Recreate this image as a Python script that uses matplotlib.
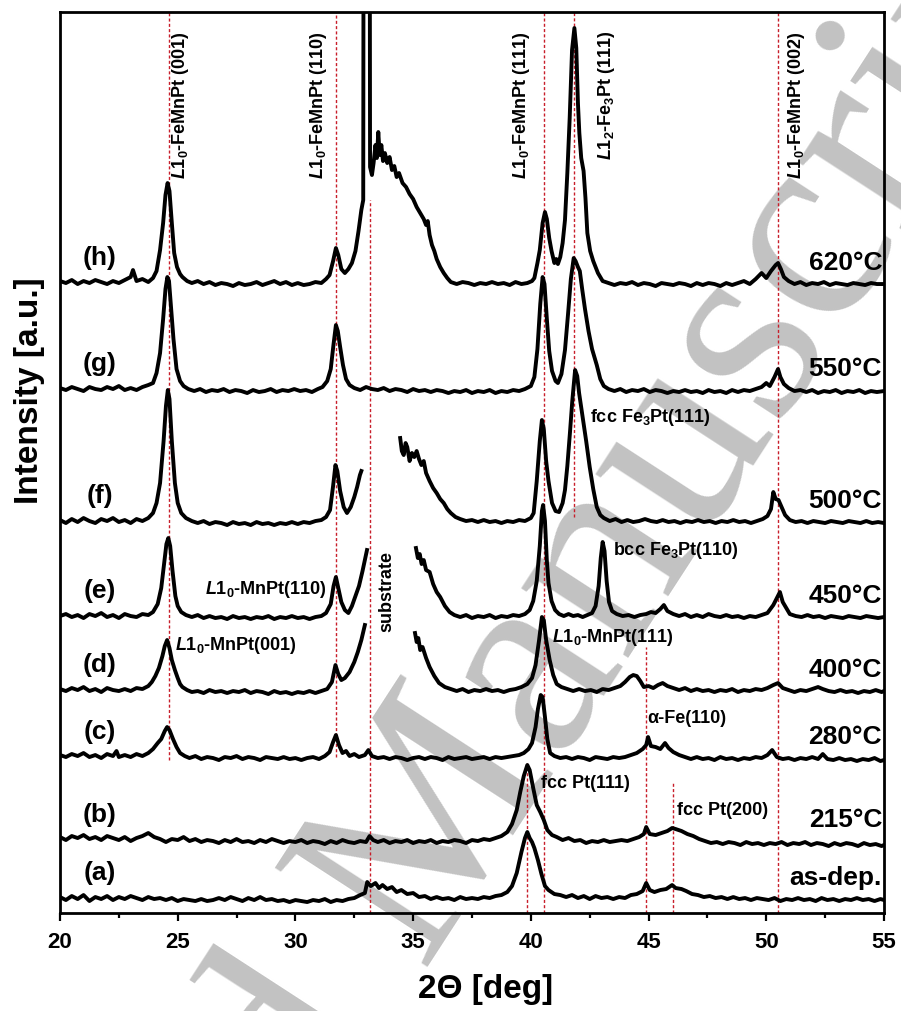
import matplotlib
matplotlib.use("Agg")
import matplotlib.pyplot as plt
from matplotlib.ticker import MultipleLocator

plt.rcParams['font.family'] = ['Liberation Sans', 'DejaVu Sans']
plt.rcParams['font.weight'] = 'bold'
plt.rcParams['mathtext.fontset'] = 'custom'
plt.rcParams['mathtext.rm'] = 'Liberation Sans:bold'
plt.rcParams['mathtext.bf'] = 'Liberation Sans:bold'
plt.rcParams['mathtext.it'] = 'Liberation Sans:italic:bold'

nan = float('nan')

# XRD patterns: (2theta, intensity above own baseline), gaps marked with nan
pattern_a = [
    (20.0, 1), (20.25, -2), (20.5, 2), (20.75, -1), (21.0, 3), (21.25, -3), (21.5, 1), (21.75, -1),
    (22.0, 2), (22.25, -2), (22.5, 1), (22.75, -1), (23.0, 2), (23.25, 0), (23.5, -2), (23.75, 1),
    (24.0, -1), (24.25, 0), (24.5, -2), (24.75, 0), (25.0, -3), (25.25, -1), (25.5, -2), (25.75, -3),
    (26.0, -1), (26.25, -3), (26.5, -2), (26.75, 0), (27.0, -2), (27.25, 1), (27.5, -1), (27.75, -3),
    (28.0, 0), (28.25, -2), (28.5, 1), (28.75, -2), (29.0, -1), (29.25, -3), (29.5, -2), (29.75, -4),
    (30.0, -2), (30.25, -3), (30.5, -4), (30.75, -2), (31.0, -3), (31.25, -1), (31.5, -4), (31.75, -2),
    (32.0, -3), (32.25, -1), (32.5, 0), (32.75, 3), (32.95, 5), (33.05, 16), (33.2, 12), (33.4, 15),
    (33.55, 10), (33.7, 13), (33.9, 9), (34.1, 11), (34.3, 6), (34.5, 8), (34.75, 4), (35.0, 5),
    (35.25, 1), (35.5, 2), (35.75, -1), (36.0, 1), (36.25, -1), (36.5, 0), (36.75, -2), (37.0, 1),
    (37.25, -1), (37.5, 0), (37.75, -1), (38.0, 1), (38.25, 0), (38.5, 2), (38.75, 3), (39.0, 6),
    (39.2, 12), (39.4, 25), (39.6, 46), (39.75, 60), (39.85, 66), (39.95, 60), (40.05, 56), (40.15, 50),
    (40.3, 38), (40.45, 24), (40.6, 12), (40.75, 8), (41.0, 4), (41.25, 3), (41.5, 1), (41.75, 3),
    (42.0, 0), (42.25, 2), (42.5, -1), (42.75, 2), (43.0, 0), (43.25, 1), (43.5, -1), (43.75, 1),
    (44.0, 0), (44.25, 3), (44.5, 4), (44.75, 7), (44.9, 15), (45.05, 8), (45.25, 6), (45.5, 8),
    (45.75, 9), (46.0, 13), (46.15, 10), (46.4, 9), (46.6, 7), (46.85, 4), (47.1, 3), (47.35, 1),
    (47.6, 2), (47.85, 0), (48.1, 1), (48.35, -1), (48.6, 1), (48.85, -1), (49.1, 0), (49.35, -2),
    (49.6, 0), (49.85, -1), (50.1, -2), (50.35, 0), (50.6, -3), (50.85, -1), (51.1, -2), (51.35, 0),
    (51.6, -2), (51.85, -1), (52.1, -3), (52.35, 0), (52.6, -2), (52.85, -1), (53.1, -3), (53.35, -1),
    (53.6, -2), (53.85, 0), (54.1, -2), (54.35, -1), (54.6, -3), (54.85, -1), (55.0, -2),
]

pattern_b = [
    (20.0, 3), (20.25, 0), (20.5, 4), (20.75, 2), (21.0, 5), (21.25, 1), (21.5, 3), (21.75, 0),
    (22.0, 4), (22.25, 2), (22.5, 0), (22.75, 3), (23.0, -1), (23.25, 2), (23.5, 4), (23.75, 7),
    (24.0, 3), (24.25, 1), (24.5, -2), (24.75, 1), (25.0, 0), (25.25, 3), (25.5, -1), (25.75, 1),
    (26.0, -2), (26.25, 0), (26.5, -1), (26.75, -3), (27.0, 0), (27.25, -2), (27.5, 1), (27.75, -2),
    (28.0, -1), (28.25, -3), (28.5, 0), (28.75, -2), (29.0, 1), (29.25, -1), (29.5, -3), (29.75, -1),
    (30.0, -2), (30.25, 0), (30.5, -3), (30.75, -1), (31.0, -2), (31.25, -4), (31.5, -1), (31.75, -3),
    (32.0, 0), (32.25, -2), (32.5, -3), (32.75, -1), (33.0, -2), (33.15, 4), (33.3, 0), (33.5, -2),
    (33.75, 0), (34.0, -3), (34.25, -1), (34.5, -2), (34.75, 0), (35.0, -3), (35.25, -1), (35.5, -2),
    (35.75, 0), (36.0, -3), (36.25, -1), (36.5, -2), (36.75, 0), (37.0, -1), (37.25, -3), (37.5, 0),
    (37.75, -1), (38.0, 1), (38.25, 0), (38.5, 2), (38.75, 4), (39.0, 8), (39.2, 16), (39.4, 30),
    (39.55, 48), (39.7, 64), (39.85, 75), (39.95, 70), (40.1, 52), (40.25, 35), (40.4, 28), (40.55, 20),
    (40.7, 10), (40.9, 5), (41.1, 3), (41.35, 0), (41.6, 2), (41.85, -1), (42.1, 0), (42.35, -3),
    (42.6, -1), (42.85, -2), (43.1, 0), (43.35, -2), (43.6, -1), (43.85, 0), (44.1, -1), (44.35, 1),
    (44.6, 3), (44.8, 6), (44.9, 13), (45.05, 6), (45.3, 5), (45.55, 7), (45.8, 9), (46.0, 12),
    (46.15, 11), (46.4, 9), (46.65, 6), (46.9, 4), (47.15, 1), (47.4, -1), (47.65, -3), (47.9, -2),
    (48.15, -4), (48.4, -2), (48.65, -3), (48.9, -5), (49.15, -2), (49.4, -4), (49.65, -3), (49.9, -5),
    (50.15, -3), (50.4, -4), (50.65, -2), (50.9, -5), (51.15, -3), (51.4, -4), (51.65, -2), (51.9, -5),
    (52.15, -3), (52.4, -4), (52.65, -6), (52.9, -3), (53.15, -5), (53.4, -3), (53.65, -4), (53.9, -6),
    (54.15, -3), (54.4, -5), (54.65, -4), (54.9, -6), (55.0, -5),
]

pattern_c = [
    (20.0, 2), (20.25, 0), (20.5, 3), (20.75, 1), (21.0, 4), (21.25, 0), (21.5, 2), (21.75, -1),
    (22.0, 3), (22.25, 1), (22.4, 6), (22.5, 0), (22.75, 2), (23.0, 0), (23.25, 3), (23.5, 1),
    (23.75, 4), (23.95, 8), (24.15, 14), (24.3, 18), (24.45, 26), (24.55, 30), (24.65, 27), (24.8, 18),
    (24.95, 10), (25.1, 4), (25.3, 1), (25.5, -1), (25.75, 1), (26.0, -2), (26.25, 0), (26.5, -1),
    (26.75, -3), (27.0, 0), (27.25, -1), (27.5, 1), (27.75, -2), (28.0, 0), (28.25, -1), (28.5, -3),
    (28.75, 0), (29.0, -1), (29.25, -2), (29.5, 0), (29.75, -2), (30.0, -1), (30.25, -3), (30.5, -1),
    (30.75, 0), (31.0, -2), (31.25, 1), (31.45, 5), (31.6, 15), (31.72, 22), (31.85, 12), (32.0, 4),
    (32.15, 6), (32.3, 1), (32.5, 3), (32.7, 0), (32.95, 2), (33.1, 7), (33.25, 1), (33.5, -1),
    (33.75, 0), (34.0, -2), (34.25, 0), (34.5, -1), (34.75, -3), (35.0, -1), (35.25, 0), (35.5, -2),
    (35.75, 0), (36.0, -1), (36.25, -3), (36.5, 0), (36.75, -2), (37.0, -1), (37.25, 0), (37.5, -2),
    (37.75, -1), (38.0, 0), (38.25, -2), (38.5, 0), (38.75, -1), (39.0, 0), (39.25, 1), (39.5, 2),
    (39.7, 4), (39.9, 8), (40.05, 14), (40.2, 30), (40.3, 48), (40.42, 62), (40.5, 60), (40.6, 40),
    (40.7, 18), (40.82, 4), (41.0, 1), (41.25, -1), (41.5, 0), (41.75, -2), (42.0, 0), (42.25, -1),
    (42.5, -3), (42.75, 0), (43.0, -1), (43.25, -2), (43.5, 0), (43.75, -1), (44.0, 0), (44.25, 2),
    (44.5, 4), (44.75, 8), (44.9, 12), (44.98, 20), (45.1, 11), (45.3, 10), (45.5, 8), (45.7, 14),
    (45.85, 9), (46.05, 5), (46.3, 2), (46.55, 0), (46.8, -2), (47.05, 0), (47.3, -2), (47.55, -1),
    (47.8, -3), (48.05, 0), (48.3, -2), (48.55, -1), (48.8, -3), (49.05, -1), (49.3, -2), (49.55, 0),
    (49.8, -1), (50.05, 2), (50.25, 7), (50.45, 0), (50.7, -2), (50.95, -1), (51.2, -3), (51.45, -1),
    (51.7, -2), (51.95, 0), (52.2, -2), (52.4, 3), (52.6, -2), (52.85, -3), (53.1, -1), (53.35, -3),
    (53.6, -2), (53.85, -4), (54.1, -2), (54.35, -3), (54.6, -1), (54.85, -4), (55.0, -3),
]

pattern_d = [
    (20.0, 1), (20.25, -1), (20.5, 2), (20.75, 0), (21.0, 3), (21.25, -1), (21.5, 1), (21.75, -2),
    (22.0, 2), (22.25, 0), (22.5, -1), (22.75, 1), (23.0, -1), (23.25, 2), (23.5, 1), (23.75, 4),
    (23.9, 8), (24.05, 14), (24.2, 22), (24.35, 34), (24.45, 44), (24.55, 50), (24.65, 42), (24.75, 30),
    (24.88, 20), (25.0, 12), (25.1, 6), (25.2, 3), (25.4, 0), (25.6, -2), (25.85, -1), (26.1, -3),
    (26.35, 0), (26.6, -2), (26.85, -1), (27.1, -3), (27.35, -1), (27.6, -2), (27.85, 0), (28.1, -3),
    (28.35, -1), (28.6, -2), (28.85, -4), (29.1, -1), (29.35, -3), (29.6, -2), (29.85, -4), (30.1, -2),
    (30.35, -3), (30.6, -1), (30.85, -3), (31.1, -1), (31.35, 1), (31.55, 8), (31.7, 25), (31.82, 16),
    (31.95, 10), (32.1, 12), (32.3, 18), (32.5, 28), (32.65, 38), (32.8, 50), (32.95, 65), (33.0, nan),
    (35.08, 57), (35.15, 48), (35.22, 52), (35.3, 40), (35.4, 43), (35.55, 32), (35.7, 23), (35.9, 14),
    (36.1, 7), (36.35, 3), (36.6, 1), (36.85, -1), (37.1, 1), (37.35, -2), (37.6, 0), (37.85, -1),
    (38.1, 1), (38.35, -1), (38.6, 0), (38.85, -2), (39.1, 0), (39.35, 1), (39.6, 3), (39.85, 6),
    (40.05, 12), (40.2, 25), (40.35, 50), (40.47, 73), (40.55, 70), (40.65, 50), (40.8, 30), (40.95, 15),
    (41.1, 6), (41.3, 3), (41.55, 1), (41.8, -1), (42.05, 1), (42.3, -1), (42.55, 0), (42.8, -2),
    (43.05, 1), (43.3, 0), (43.55, 2), (43.8, 4), (44.0, 8), (44.2, 13), (44.35, 15), (44.5, 14),
    (44.65, 9), (44.8, 3), (45.0, 4), (45.2, 2), (45.4, 5), (45.6, 7), (45.8, 4), (46.05, 2),
    (46.3, 0), (46.55, 2), (46.8, -1), (47.05, 1), (47.3, -1), (47.55, 0), (47.8, -2), (48.05, 0),
    (48.3, -1), (48.55, 1), (48.8, -2), (49.05, 0), (49.3, -1), (49.55, 1), (49.8, 0), (50.05, 2),
    (50.3, 5), (50.5, 7), (50.7, 2), (50.95, 0), (51.2, -2), (51.45, 0), (51.7, -1), (51.95, 1),
    (52.2, 3), (52.4, 1), (52.65, -1), (52.9, -2), (53.15, 0), (53.4, -2), (53.65, -1), (53.9, -3),
    (54.15, -1), (54.4, -2), (54.65, 0), (54.9, -2), (55.0, -1),
]

pattern_e = [
    (20.0, 0), (20.25, 2), (20.5, -1), (20.75, 1), (21.0, -2), (21.25, 2), (21.5, 0), (21.75, 3),
    (22.0, -1), (22.25, 1), (22.5, -2), (22.75, 2), (23.0, 0), (23.25, -1), (23.5, 2), (23.75, 1),
    (23.95, 4), (24.15, 12), (24.3, 28), (24.42, 52), (24.52, 72), (24.6, 78), (24.68, 70), (24.78, 45),
    (24.9, 20), (25.0, 10), (25.15, 4), (25.35, 1), (25.6, -1), (25.85, 1), (26.1, -2), (26.35, 0),
    (26.6, -2), (26.85, -1), (27.1, -3), (27.35, 0), (27.6, -2), (27.85, -1), (28.1, -3), (28.35, -1),
    (28.6, -2), (28.85, 0), (29.1, -3), (29.35, -1), (29.6, -2), (29.85, 0), (30.1, -2), (30.35, -1),
    (30.6, -3), (30.85, -1), (31.1, 0), (31.3, 3), (31.5, 12), (31.62, 30), (31.72, 39), (31.82, 28),
    (31.95, 14), (32.1, 6), (32.25, 3), (32.4, 10), (32.55, 20), (32.7, 30), (32.85, 45), (33.0, 62),
    (33.04, 66), (33.1, nan),
    (35.12, 68), (35.2, 58), (35.28, 62), (35.36, 52), (35.45, 56), (35.55, 46), (35.7, 44), (35.85, 32),
    (36.0, 24), (36.15, 19), (36.35, 10), (36.55, 4), (36.75, 1), (37.0, -1), (37.25, 1), (37.5, -2),
    (37.75, 0), (38.0, -1), (38.25, 1), (38.5, -2), (38.75, 0), (39.0, -1), (39.25, 1), (39.5, 0),
    (39.75, 2), (39.95, 6), (40.1, 15), (40.25, 35), (40.38, 70), (40.47, 105), (40.52, 111), (40.6, 95),
    (40.68, 55), (40.75, 33), (40.88, 15), (41.03, 6), (41.2, 2), (41.4, 0), (41.6, 2), (41.8, 0),
    (42.0, 1), (42.2, -1), (42.4, 1), (42.6, 3), (42.75, 10), (42.88, 30), (42.97, 58), (43.05, 74),
    (43.13, 65), (43.22, 35), (43.32, 14), (43.45, 5), (43.65, 2), (43.9, 0), (44.15, 1), (44.4, -1),
    (44.65, 1), (44.9, 2), (45.1, 4), (45.3, 3), (45.5, 7), (45.65, 11), (45.8, 5), (46.05, 2),
    (46.3, 0), (46.55, 2), (46.8, -1), (47.05, 1), (47.3, -1), (47.55, 2), (47.8, 0), (48.05, -1),
    (48.3, 1), (48.55, -1), (48.8, 0), (49.05, -2), (49.3, 0), (49.55, -1), (49.8, 1), (50.05, 3),
    (50.3, 11), (50.45, 18), (50.58, 24), (50.7, 14), (50.85, 8), (51.0, 2), (51.25, 0), (51.5, -1),
    (51.75, 1), (52.0, -1), (52.25, 0), (52.5, -2), (52.75, 0), (53.0, -1), (53.25, -2), (53.5, 0),
    (53.75, -1), (54.0, -2), (54.25, 0), (54.5, -1), (54.75, -2), (55.0, -1),
]

pattern_f = [
    (20.0, 1), (20.25, -2), (20.5, 2), (20.75, -1), (21.0, 3), (21.25, 0), (21.5, -2), (21.75, 2),
    (22.0, 0), (22.25, 3), (22.5, -1), (22.75, 1), (23.0, -2), (23.25, 2), (23.5, 0), (23.75, 3),
    (23.95, 8), (24.1, 18), (24.25, 38), (24.4, 80), (24.5, 115), (24.58, 131), (24.65, 122), (24.75, 80),
    (24.88, 38), (25.0, 18), (25.15, 8), (25.35, 3), (25.6, 0), (25.85, -2), (26.1, 0), (26.35, -3),
    (26.6, -1), (26.85, -2), (27.1, -4), (27.35, -1), (27.6, -3), (27.85, -2), (28.1, -4), (28.35, -1),
    (28.6, -3), (28.85, -2), (29.1, -4), (29.35, -2), (29.6, -3), (29.85, -1), (30.1, -3), (30.35, -1),
    (30.6, -2), (30.85, 0), (31.1, 1), (31.3, 4), (31.47, 11), (31.6, 35), (31.7, 56), (31.78, 50),
    (31.9, 30), (32.05, 14), (32.19, 8), (32.35, 14), (32.5, 24), (32.62, 34), (32.74, 46), (32.8, 50),
    (32.85, nan),
    (34.45, 83), (34.52, 70), (34.6, 66), (34.68, 78), (34.75, 74), (34.85, 60), (34.95, 68), (35.05, 64),
    (35.15, 70), (35.25, 62), (35.35, 56), (35.45, 60), (35.55, 48), (35.7, 40), (35.85, 33), (36.0, 28),
    (36.15, 22), (36.3, 18), (36.45, 12), (36.6, 8), (36.8, 4), (37.0, 2), (37.25, 0), (37.5, 1),
    (37.75, -1), (38.0, 1), (38.25, -1), (38.5, 0), (38.75, -2), (39.0, 0), (39.25, -1), (39.5, 1),
    (39.75, 0), (40.0, 3), (40.12, 8), (40.25, 40), (40.38, 80), (40.47, 101), (40.55, 92), (40.65, 60),
    (40.75, 40), (40.9, 18), (41.05, 10), (41.2, 9), (41.35, 18), (41.45, 31), (41.55, 55), (41.66, 88),
    (41.76, 120), (41.88, 151), (41.97, 145), (42.05, 128), (42.2, 104), (42.35, 80), (42.5, 54), (42.65, 32),
    (42.8, 14), (42.95, 6), (43.1, 3), (43.35, 0), (43.6, 2), (43.85, -1), (44.1, 1), (44.35, -1),
    (44.6, 0), (44.85, 2), (45.1, 0), (45.35, -1), (45.6, 1), (45.85, -1), (46.1, 0), (46.35, -2),
    (46.6, 0), (46.85, -1), (47.1, 1), (47.35, -1), (47.6, 0), (47.85, -2), (48.1, 0), (48.35, -1),
    (48.6, 1), (48.85, -1), (49.1, 0), (49.35, -2), (49.6, 0), (49.85, 2), (50.05, 5), (50.2, 12),
    (50.3, 29), (50.4, 22), (50.52, 21), (50.65, 14), (50.8, 6), (51.0, 1), (51.25, -1), (51.5, 0),
    (51.75, -2), (52.0, 0), (52.25, -1), (52.5, -2), (52.75, 0), (53.0, -1), (53.25, -2), (53.5, 0),
    (53.75, -1), (54.0, -2), (54.25, 0), (54.5, -2), (54.75, -1), (55.0, -2),
]

pattern_g = [
    (20.0, 1), (20.25, -1), (20.5, 2), (20.75, 0), (21.0, -2), (21.25, 2), (21.5, 0), (21.75, -1),
    (22.0, 2), (22.25, 0), (22.5, 3), (22.75, -1), (23.0, 1), (23.25, -1), (23.5, 2), (23.75, 4),
    (23.95, 6), (24.1, 16), (24.25, 36), (24.38, 70), (24.48, 100), (24.56, 112), (24.63, 108), (24.72, 80),
    (24.82, 50), (24.95, 20), (25.1, 8), (25.25, 3), (25.45, 0), (25.7, -2), (25.95, 0), (26.2, -3),
    (26.45, -1), (26.7, -2), (26.95, 0), (27.2, -3), (27.45, -1), (27.7, -2), (27.95, -4), (28.2, -1),
    (28.45, -3), (28.7, -2), (28.95, 0), (29.2, -3), (29.45, -1), (29.7, -2), (29.95, 0), (30.2, -2),
    (30.45, -1), (30.7, -3), (30.95, 0), (31.15, 2), (31.35, 8), (31.5, 20), (31.62, 45), (31.72, 64),
    (31.8, 58), (31.9, 42), (32.02, 24), (32.15, 10), (32.3, 4), (32.5, 1), (32.75, -1), (33.0, 2),
    (33.25, 0), (33.5, -1), (33.75, 1), (34.0, -2), (34.25, 0), (34.5, -1), (34.75, -3), (35.0, 0),
    (35.25, -2), (35.5, -1), (35.75, -3), (36.0, -1), (36.25, -2), (36.5, -4), (36.75, -2), (37.0, -3),
    (37.25, -1), (37.5, -4), (37.75, -2), (38.0, -3), (38.25, -1), (38.5, -4), (38.75, -2), (39.0, -3),
    (39.25, -1), (39.5, -2), (39.75, 0), (40.0, 3), (40.15, 12), (40.28, 40), (40.4, 85), (40.5, 112),
    (40.58, 105), (40.68, 70), (40.78, 38), (40.9, 18), (41.05, 8), (41.15, 6), (41.3, 15), (41.45, 39),
    (41.58, 75), (41.7, 110), (41.82, 131), (41.9, 128), (42.0, 122), (42.08, 118), (42.18, 100), (42.3, 80),
    (42.45, 58), (42.6, 40), (42.8, 24), (42.95, 10), (43.1, 3), (43.3, 0), (43.55, -2), (43.8, 0),
    (44.05, -3), (44.3, -1), (44.55, -2), (44.8, 0), (45.05, -3), (45.3, -1), (45.55, -2), (45.8, -4),
    (46.05, -2), (46.3, -3), (46.55, -1), (46.8, -3), (47.05, -2), (47.3, -4), (47.55, -1), (47.8, -3),
    (48.05, -2), (48.3, -4), (48.55, -1), (48.8, -3), (49.05, -1), (49.3, -2), (49.55, 0), (49.8, 2),
    (50.0, 6), (50.15, 3), (50.35, 12), (50.5, 20), (50.6, 12), (50.75, 5), (50.95, 1), (51.2, -2),
    (51.45, -1), (51.7, -3), (51.95, -1), (52.2, -4), (52.45, -2), (52.7, -3), (52.95, -1), (53.2, -4),
    (53.45, -2), (53.7, -3), (53.95, -1), (54.2, -4), (54.45, -2), (54.7, -3), (55.0, -2),
]

pattern_h = [
    (20.0, 2), (20.25, 0), (20.5, 3), (20.75, -1), (21.0, 2), (21.25, 0), (21.5, 3), (21.75, 1),
    (22.0, -1), (22.25, 2), (22.5, 0), (22.75, 3), (23.0, 6), (23.1, 13), (23.25, 2), (23.5, 4),
    (23.75, 1), (23.95, 5), (24.1, 12), (24.25, 33), (24.38, 60), (24.48, 88), (24.57, 100), (24.65, 92),
    (24.75, 60), (24.85, 30), (24.97, 16), (25.1, 9), (25.2, 6), (25.4, 2), (25.6, 0), (25.85, 2),
    (26.1, -1), (26.35, 1), (26.6, -2), (26.85, 0), (27.1, -1), (27.35, -3), (27.6, 0), (27.85, -2),
    (28.1, -1), (28.35, 1), (28.6, -2), (28.85, 0), (29.1, 2), (29.35, -1), (29.6, 1), (29.85, -2),
    (30.1, 0), (30.35, -2), (30.6, -1), (30.85, 1), (31.1, 0), (31.3, 4), (31.45, 8), (31.6, 22),
    (31.72, 35), (31.82, 28), (31.95, 14), (32.1, 10), (32.25, 14), (32.4, 20), (32.55, 32), (32.68, 52),
    (32.8, 73), (32.88, 83), (32.92, 900), (33.13, 900), (33.17, 116), (33.25, 108), (33.32, 120), (33.4, 138),
    (33.46, 125), (33.52, 151), (33.58, 128), (33.65, 138), (33.72, 122), (33.8, 130), (33.9, 120), (34.0, 126),
    (34.1, 113), (34.2, 117), (34.3, 106), (34.4, 110), (34.55, 100), (34.7, 96), (34.85, 89), (35.0, 84),
    (35.15, 76), (35.3, 70), (35.45, 64), (35.55, 58), (35.62, 62), (35.7, 48), (35.8, 38), (35.9, 32),
    (36.0, 24), (36.15, 16), (36.3, 10), (36.45, 5), (36.6, 1), (36.85, -1), (37.1, 1), (37.35, 0),
    (37.6, -2), (37.85, 0), (38.1, -1), (38.35, 1), (38.6, -1), (38.85, 0), (39.1, -2), (39.35, 1),
    (39.6, -1), (39.85, 0), (40.05, 2), (40.15, 5), (40.28, 20), (40.38, 33), (40.5, 60), (40.6, 71),
    (40.68, 64), (40.78, 45), (40.88, 32), (41.0, 20), (41.08, 24), (41.15, 19), (41.25, 26), (41.35, 40),
    (41.45, 63), (41.55, 110), (41.65, 165), (41.75, 233), (41.85, 255), (41.93, 235), (42.0, 180), (42.06, 150),
    (42.14, 125), (42.24, 112), (42.32, 85), (42.4, 50), (42.52, 32), (42.65, 22), (42.85, 10), (43.05, 2),
    (43.3, 0), (43.55, -2), (43.8, 0), (44.05, -1), (44.3, 1), (44.55, -2), (44.8, 0), (45.05, -1),
    (45.3, -3), (45.55, 0), (45.8, -1), (46.05, -2), (46.3, 0), (46.55, -1), (46.8, -3), (47.05, 0),
    (47.3, -2), (47.55, 0), (47.8, -1), (48.05, -3), (48.3, 0), (48.55, -2), (48.8, 0), (49.05, 2),
    (49.3, -1), (49.55, 4), (49.8, 10), (50.0, 5), (50.2, 12), (50.4, 18), (50.5, 20), (50.62, 14),
    (50.75, 6), (50.95, 2), (51.2, -1), (51.45, 1), (51.7, -2), (51.95, 0), (52.2, -1), (52.45, 1),
    (52.7, -2), (52.95, 0), (53.2, -1), (53.45, -2), (53.7, 0), (53.95, -1), (54.2, -2), (54.45, 0),
    (54.7, -1), (55.0, -1),
]

patterns = [pattern_a, pattern_b, pattern_c, pattern_d, pattern_e, pattern_f, pattern_g, pattern_h]
sample_tags = ['(a)', '(b)', '(c)', '(d)', '(e)', '(f)', '(g)', '(h)']
temperatures = ['as-dep.', '215°C', '280°C', '400°C', '450°C', '500°C', '550°C', '620°C']
offsets = [15, 73, 156, 223, 297, 392, 524, 630]

# reference peak positions (2theta) and the height range of each dashed marker
ref_pos = [24.62, 31.72, 33.15, 40.55, 41.85, 50.5, 39.82, 44.88, 46.05]
ref_low = [153, 156, 0, 0, 396, 0, 0, 0, 0]
ref_high = [901, 901, 713, 901, 901, 901, 150, 266, 130]

phase_labels = [r'$\mathit{L1_0}$-FeMnPt (001)', r'$\mathit{L1_0}$-FeMnPt (110)',
                r'$\mathit{L1_0}$-FeMnPt (111)', r'$\mathit{L1_2}$-Fe$_3$Pt (111)',
                r'$\mathit{L1_0}$-FeMnPt (002)']
phase_label_x = [25.1, 30.96, 39.6, 43.2, 51.3]

fig = plt.figure(figsize=(9.01, 10.11), dpi=100)
ax = fig.add_axes([0.0666, 0.0969, 0.9145, 0.8912])

for pat, off in zip(patterns, offsets):
    xs = [p[0] for p in pat]
    ys = [p[1] + off for p in pat]
    ax.plot(xs, ys, color='black', lw=2.8, solid_joinstyle='round', zorder=3)

ax.vlines(ref_pos, ref_low, ref_high, colors='#c81e2a', linestyles=(0, (2.2, 1.6)),
          lw=1.0, zorder=2)

# sample tags on the left, annealing temperatures on the right
for tag, temp, off in zip(sample_tags, temperatures, offsets):
    ax.text(21.7, off + 25, tag, fontsize=19, ha='center', va='center', zorder=4)
    ax.text(54.92, off + 20, temp, fontsize=19, ha='right', va='center', zorder=4)

for lab, xp in zip(phase_labels, phase_label_x):
    ax.text(xp, 882, lab, rotation=90, fontsize=13, ha='center', va='top', zorder=4)

ax.text(31.34, 324, r'$\mathit{L1_0}$-MnPt(110)', fontsize=13, ha='right', va='center')
ax.text(24.89, 268, r'$\mathit{L1_0}$-MnPt(001)', fontsize=13, ha='left', va='center')
ax.text(33.89, 322, 'substrate', fontsize=13, rotation=90, ha='center', va='center')
ax.text(40.89, 276, r'$\mathit{L1_0}$-MnPt(111)', fontsize=13, ha='left', va='center')
ax.text(42.51, 496, 'fcc Fe$_3$Pt(111)', fontsize=13, ha='left', va='center')
ax.text(43.49, 363, 'bcc Fe$_3$Pt(110)', fontsize=13, ha='left', va='center')
ax.text(44.94, 195, 'α-Fe(110)', fontsize=13, ha='left', va='center')
ax.text(40.43, 130, 'fcc Pt(111)', fontsize=13, ha='left', va='center')
ax.text(46.21, 103, 'fcc Pt(200)', fontsize=13, ha='left', va='center')

# journal watermark behind the curves
ax.text(0.515, 0.098, 'Accepted Manuscript', transform=fig.transFigure, rotation=57,
        rotation_mode='anchor', ha='center', va='baseline', fontsize=200,
        family='Liberation Serif', fontweight='normal', color='#c2c2c2',
        zorder=0.5, clip_on=False)

ax.set_xlim(20, 55)
ax.set_ylim(0, 901)
ax.set_yticks([])
ax.xaxis.set_major_locator(MultipleLocator(5))
ax.xaxis.set_minor_locator(MultipleLocator(2.5))
ax.tick_params(axis='x', which='major', direction='out', length=6, width=1.6,
               labelsize=16, pad=8)
ax.tick_params(axis='x', which='minor', direction='out', length=3.5, width=1.6)
for lbl in ax.get_xticklabels():
    lbl.set_fontweight('bold')
for sp in ax.spines.values():
    sp.set_linewidth(2.0)

ax.set_xlabel('2Θ [deg]', fontsize=24, fontweight='bold')
ax.set_ylabel('Intensity [a.u.]', fontsize=24, fontweight='bold')
ax.xaxis.set_label_coords(0.516, -0.068)
ax.yaxis.set_label_coords(-0.018, 0.58)

fig.savefig('out.png', dpi=100)
